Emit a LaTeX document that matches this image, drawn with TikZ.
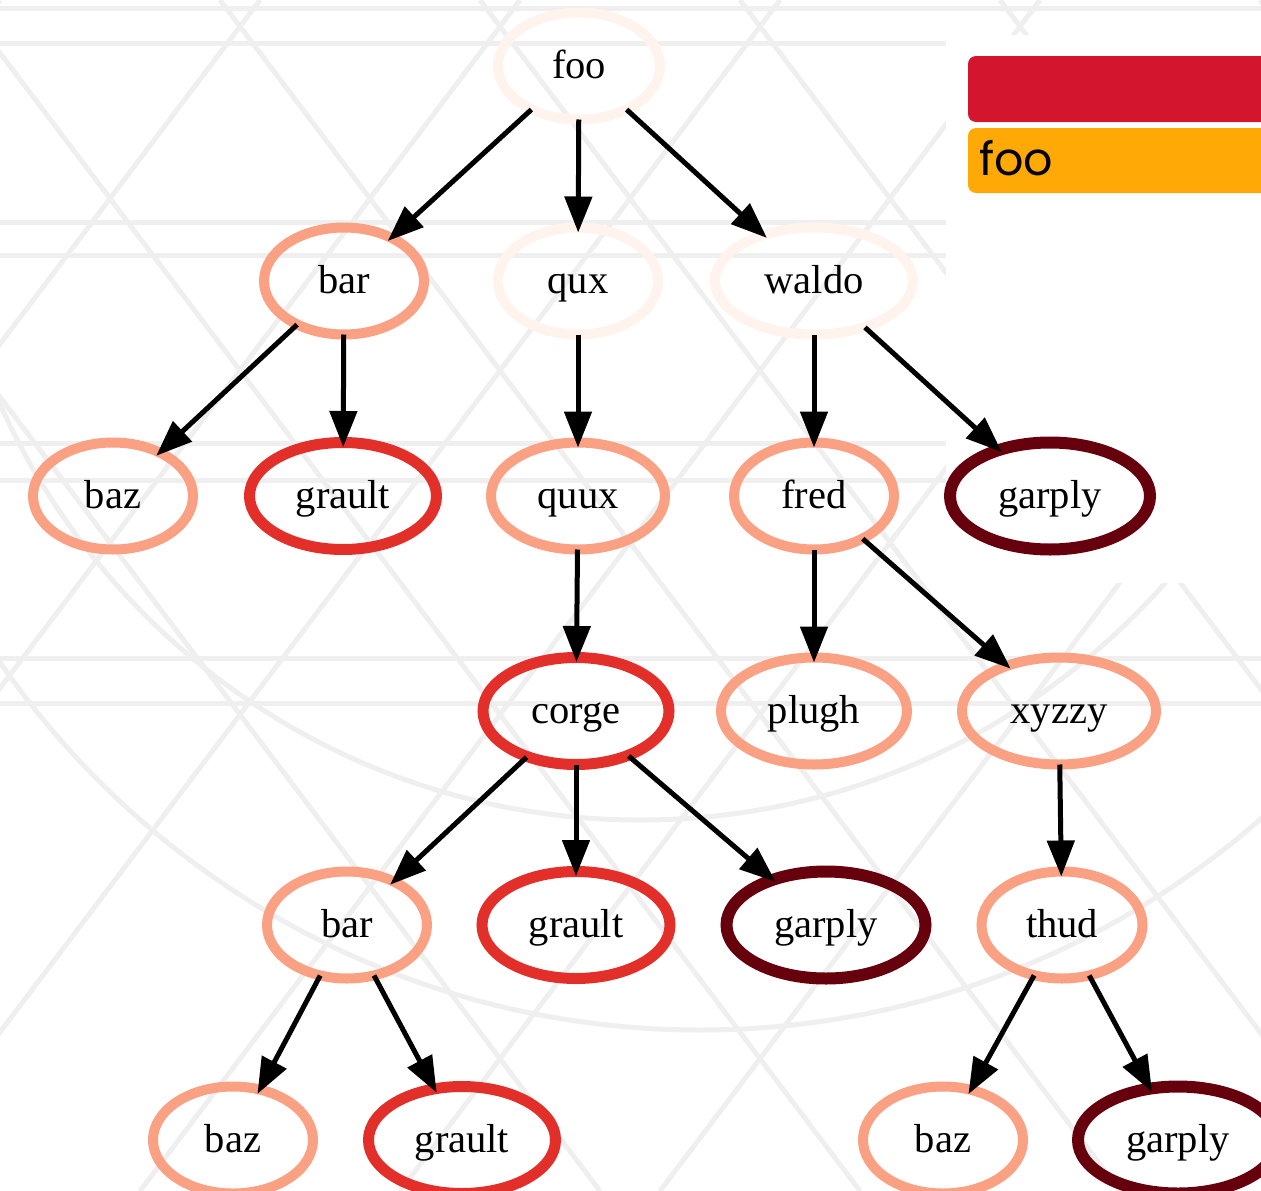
\documentclass[tikz,border=0pt]{standalone}
\usepackage{fontspec}
\setmainfont{Liberation Serif}
\newfontfamily\legendfont{Poppins}
\usetikzlibrary{arrows.meta,shapes.geometric}
\definecolor{cLight}{HTML}{FFF3EE}
\definecolor{cSalmon}{HTML}{FAA083}
\definecolor{cRed}{HTML}{E32F29}
\definecolor{cDark}{HTML}{67000D}
\definecolor{legRed}{HTML}{D3152E}
\definecolor{legOrange}{HTML}{FEA905}
\definecolor{bgline}{HTML}{EFEFEF}
\tikzset{
  nd/.style={ellipse, draw, inner sep=0pt, minimum height=107pt,
    text height=27pt, text depth=3pt, font=\fontsize{40.5}{40.5}\selectfont},
  lightn/.style={nd, draw=cLight, line width=10pt},
  salmonn/.style={nd, draw=cSalmon, line width=10pt},
  redn/.style={nd, draw=cRed, line width=11pt},
  darkn/.style={nd, draw=cDark, line width=12pt},
  arr/.style={line width=5pt, -{Triangle[length=36pt,width=27pt]},
    shorten <=-5pt, shorten >=-10pt},
  bg/.style={draw=bgline, line width=5pt},
}
\begin{document}
\begin{tikzpicture}[x=1pt,y=-1pt]
\useasboundingbox (0,0) rectangle (1261,1191);
\clip (0,0) rectangle (1261,1191);
% faint background ornament
\foreach \yy in {8,43,222,255,443,480,658,703}
  \draw[bg] (0,\yy) -- (1261,\yy);
\foreach \xx in {-300,-40,220,480,740,1000,1260}{
  \draw[bg] (\xx,0) -- ++(900,1191);
  \draw[bg] (\xx+300,0) -- ++(-900,1191);
}
\draw[bg] (700,180) circle[radius=850];
\draw[bg] (640,120) circle[radius=700];
% white panel behind legend
\fill[white] (946,35) rectangle (1261,583);
% legend
\fill[legRed, rounded corners=8pt] (968,56) rectangle (1290,122);
\fill[legOrange, rounded corners=8pt] (968,128) rectangle (1290,193);
\node[anchor=base west, inner sep=0pt, font=\legendfont\fontsize{46}{46}\selectfont] (legfoo) at (979,175) {foo};
% nodes
\node[lightn, minimum width=162pt] (foo) at (579,66) {foo};
\node[salmonn, minimum width=160pt] (bar) at (344,281) {bar};
\node[lightn, minimum width=160pt] (qux) at (578,281) {qux};
\node[lightn, minimum width=198pt] (waldo) at (814,281) {waldo};
\node[salmonn, minimum width=160pt] (baz) at (113,496) {baz};
\node[redn, minimum width=187pt] (grault) at (343,496) {grault};
\node[salmonn, minimum width=174pt] (quux) at (578,496) {quux};
\node[salmonn, minimum width=160pt] (fred) at (814,496) {fred};
\node[darkn, minimum width=200pt] (garply) at (1050,496) {garply};
\node[redn, minimum width=186pt] (corge) at (576,711) {corge};
\node[salmonn, minimum width=186pt] (plugh) at (814,711) {plugh};
\node[salmonn, minimum width=194pt] (xyzzy) at (1059,711) {xyzzy};
\node[salmonn, minimum width=160pt] (bar2) at (347,925) {bar};
\node[redn, minimum width=188pt] (grault2) at (576,925) {grault};
\node[darkn, minimum width=199pt] (garply2) at (826,925) {garply};
\node[salmonn, minimum width=161pt] (thud) at (1062,925) {thud};
\node[salmonn, minimum width=160pt] (baz3) at (233,1140) {baz};
\node[redn, minimum width=187pt] (grault3) at (462,1140) {grault};
\node[salmonn, minimum width=160pt] (baz4) at (943,1140) {baz};
\node[darkn, minimum width=200pt] (garply4) at (1178,1140) {garply};
% edges
\draw[arr] (foo) -- (bar);
\draw[arr] (foo) -- (qux);
\draw[arr] (foo) -- (waldo);
\draw[arr] (bar) -- (baz);
\draw[arr] (bar) -- (grault);
\draw[arr] (qux) -- (quux);
\draw[arr] (waldo) -- (fred);
\draw[arr] (waldo) -- (garply);
\draw[arr] (quux) -- (corge);
\draw[arr] (fred) -- (plugh);
\draw[arr] (fred) -- (xyzzy);
\draw[arr] (corge) -- (bar2);
\draw[arr] (corge) -- (grault2);
\draw[arr] (corge) -- (garply2);
\draw[arr] (xyzzy) -- (thud);
\draw[arr] (bar2) -- (baz3);
\draw[arr] (bar2) -- (grault3);
\draw[arr] (thud) -- (baz4);
\draw[arr] (thud) -- (garply4);
\end{tikzpicture}
\end{document}
